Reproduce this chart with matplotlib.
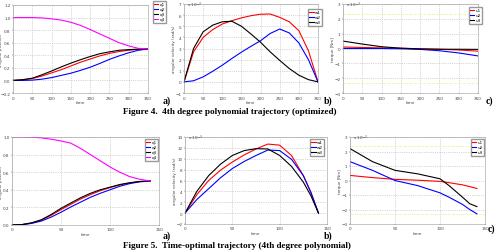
import numpy as np
import matplotlib.pyplot as plt

W, H = 497, 251

# ---------------- Figure 4 data (t = 0..350 step 25) ----------------
t4 = [0, 25, 50, 75, 100, 125, 150, 175, 200, 225, 250, 275, 300, 325, 350]
q4_1 = [0, 0.01, 0.03, 0.07, 0.12, 0.17, 0.23, 0.29, 0.34, 0.39, 0.43, 0.46, 0.48, 0.495, 0.5]
q4_2 = [0, 0.0, 0.005, 0.02, 0.045, 0.08, 0.115, 0.16, 0.21, 0.27, 0.335, 0.39, 0.44, 0.48, 0.5]
q4_3 = [0, 0.012, 0.035, 0.09, 0.15, 0.215, 0.275, 0.33, 0.38, 0.425, 0.455, 0.48, 0.49, 0.498, 0.5]
q4_4 = [1, 1, 1, 0.995, 0.98, 0.96, 0.925, 0.875, 0.81, 0.74, 0.67, 0.6, 0.55, 0.51, 0.5]

w4_1 = [0, 2.7, 4.0, 4.7, 5.2, 5.5, 5.75, 5.95, 6.08, 6.1, 5.8, 5.4, 4.6, 2.8, 0]
w4_2 = [0, 0.1, 0.45, 0.95, 1.5, 2.1, 2.67, 3.2, 3.7, 4.35, 4.75, 4.4, 3.5, 2.0, 0]
w4_3 = [0, 3.0, 4.5, 5.1, 5.4, 5.45, 5.0, 4.3, 3.56, 2.7, 1.93, 1.2, 0.6, 0.2, 0]

tu4 = [0, 50, 100, 150, 200, 250, 300, 350]
u4_1 = [0.1, 0.07, 0.04, 0.02, -0.02, -0.05, -0.1, -0.18]
u4_2 = [0.0, 0.0, 0.0, -0.02, -0.06, -0.15, -0.3, -0.5]
u4_3 = [0.5, 0.3, 0.12, 0.02, -0.03, -0.05, -0.05, -0.06]

# ---------------- Figure 5 data (t = 0..141) ----------------
t5 = [0, 10, 20, 30, 40, 50, 60, 70, 80, 90, 100, 110, 120, 130, 141]
q5_1 = [0, 0.004, 0.022, 0.055, 0.11, 0.175, 0.235, 0.295, 0.345, 0.39, 0.425, 0.455, 0.478, 0.493, 0.5]
q5_2 = [0, 0.003, 0.018, 0.045, 0.09, 0.145, 0.205, 0.26, 0.315, 0.36, 0.40, 0.44, 0.47, 0.49, 0.5]
q5_3 = [0, 0.005, 0.025, 0.06, 0.12, 0.19, 0.25, 0.31, 0.36, 0.40, 0.43, 0.46, 0.48, 0.495, 0.5]
q5_4 = [1, 1, 0.998, 0.99, 0.975, 0.955, 0.93, 0.87, 0.80, 0.73, 0.66, 0.60, 0.55, 0.52, 0.5]

tw5 = [0, 12.5, 25, 37.5, 50, 62.5, 75, 87.5, 100, 112.5, 125, 133, 141]
w5_1 = [0, 3.4, 6.0, 7.9, 9.4, 10.7, 11.8, 12.7, 12.5, 10.6, 6.9, 3.8, 0]
w5_2 = [0, 2.5, 4.5, 6.5, 8.2, 9.5, 10.6, 11.6, 11.5, 9.9, 6.9, 3.8, 0]
w5_3 = [0, 4.0, 6.9, 9.0, 10.6, 11.5, 11.85, 11.8, 10.6, 8.6, 5.7, 3.2, 0]

tu5 = [0, 25, 50, 75, 100, 110, 125, 133, 141]
u5_1 = [0.35, 0.2, 0.08, 0.02, -0.06, -0.15, -0.3, -0.42, -0.55]
u5_2 = [1.3, 0.7, 0.0, -0.35, -0.85, -1.15, -1.65, -2.0, -2.3]
u5_3 = [2.2, 1.3, 0.7, 0.46, 0.12, -0.35, -1.15, -1.6, -1.8]


def px_axes(fig, l, r, t, b):
    ax = fig.add_axes([l / W, 1 - b / H, (r - l) / W, (b - t) / H])
    ax._pxl = l
    ax._pxw = r - l
    return ax


def style(ax, xt, yt, ylab, scale=False, lab_px=None):
    ax.set_xticks(xt)
    ax.set_yticks(yt)
    ax.set_xlim(xt[0], xt[-1])
    ax.set_ylim(yt[0], yt[-1])
    ax.grid(True, linestyle=':', color='#b0b0b0', linewidth=0.5)
    ax.tick_params(labelsize=3.0, length=1, width=0.3, pad=0.8, colors='#444444')
    for s in ax.spines.values():
        s.set_color('#999999')
        s.set_linewidth(0.4)
    ax.set_xlabel('time', fontsize=3.0, labelpad=0.5, color='#444444')
    ax.set_ylabel(ylab, fontsize=2.9, color='#444444')
    # label centre in figure pixels
    if lab_px is None:
        lab_px = ax._pxl - 8.0
    ax.yaxis.set_label_coords((lab_px - ax._pxl) / ax._pxw, 0.5)
    if scale:
        ax.text(0.02, 1.0, 'x 10$^{-3}$', transform=ax.transAxes, fontsize=3.0,
                color='#444444', va='center')


def leg(ax, x1, y0):
    ax.legend(loc='upper right', bbox_to_anchor=(x1 / W, 1 - y0 / H),
              bbox_transform=ax.figure.transFigure, fontsize=3,
              handlelength=1.0, borderpad=0.3, labelspacing=0.25, handletextpad=0.3,
              borderaxespad=0, fancybox=False, edgecolor='#999999', framealpha=1)


fig = plt.figure(figsize=(W / 100, H / 100), dpi=100)
lw = 0.8

# Figure 4 a)
ax = px_axes(fig, 13, 148, 6, 94)
ax.plot(t4, q4_1, color='red', lw=lw, label='q1')
ax.plot(t4, q4_2, color='blue', lw=lw, label='q2')
ax.plot(t4, q4_3, color='black', lw=lw, label='q3')
ax.plot(t4, q4_4, color='magenta', lw=lw, label='q4')
style(ax, [0, 50, 100, 150, 200, 250, 300, 350], [-0.2, 0, 0.2, 0.4, 0.6, 0.8, 1, 1.2],
      'angular position', lab_px=3.3)
leg(ax, 166, 2)

# Figure 4 b)
ax = px_axes(fig, 184, 318, 5, 94)
ax.plot(t4, w4_1, color='red', lw=lw, label='w1')
ax.plot(t4, w4_2, color='blue', lw=lw, label='w2')
ax.plot(t4, w4_3, color='black', lw=lw, label='w3')
style(ax, [0, 50, 100, 150, 200, 250, 300, 350], list(range(-1, 8)), 'angular velocity (rad/s)', True)
leg(ax, 322, 10)

# Figure 4 c)
ax = px_axes(fig, 343, 478, 5, 94)
for v in (2.3, -2.3):
    ax.axhline(v, color='#f2f2a0', lw=0.6, ls='--')
ax.plot(tu4, u4_1, color='red', lw=lw, label='u1')
ax.plot(tu4, u4_2, color='blue', lw=lw, label='u2')
ax.plot(tu4, u4_3, color='black', lw=lw, label='u3')
style(ax, [0, 50, 100, 150, 200, 250, 300, 350], list(range(-3, 4)), 'torque [Nm]', True)
leg(ax, 482, 8)

# Figure 5 a)
ax = px_axes(fig, 12, 159, 138, 226)
ax.plot(t5, q5_1, color='red', lw=lw, label='q1')
ax.plot(t5, q5_2, color='blue', lw=lw, label='q2')
ax.plot(t5, q5_3, color='black', lw=lw, label='q3')
ax.plot(t5, q5_4, color='magenta', lw=lw, label='q4')
style(ax, [0, 50, 100, 150], [0, 0.2, 0.4, 0.6, 0.8, 1], 'angular position', lab_px=3.0)
leg(ax, 158, 140)

# Figure 5 b)
ax = px_axes(fig, 185, 327, 138, 225)
ax.plot(tw5, w5_1, color='red', lw=lw, label='w1')
ax.plot(tw5, w5_2, color='blue', lw=lw, label='w2')
ax.plot(tw5, w5_3, color='black', lw=lw, label='w3')
style(ax, [0, 50, 100, 150], list(range(-2, 15, 2)), 'angular velocity (rad/s)', True)
leg(ax, 324, 140)

# Figure 5 c)
ax = px_axes(fig, 350, 485, 138, 225)
for v in (2.4, -2.3):
    ax.axhline(v, color='#f2f2a0', lw=0.6, ls='--')
ax.plot(tu5, u5_1, color='red', lw=lw, label='u1')
ax.plot(tu5, u5_2, color='blue', lw=lw, label='u2')
ax.plot(tu5, u5_3, color='black', lw=lw, label='u3')
style(ax, [0, 50, 100, 150], list(range(-3, 4)), 'torque [Nm]', True)
leg(ax, 484, 140)

# panel letters and captions
lab = dict(fontfamily='Liberation Serif', fontweight='bold', fontsize=7, va='center', ha='left')
for x, y, s in [(163, 101, 'a)'), (324, 101, 'b)'), (486, 101, 'c)'),
                (163, 236, 'a)'), (324, 236, 'b)'), (488, 229, 'c)')]:
    fig.text(x / W, 1 - y / H, s, **lab)
cap = dict(fontfamily='Liberation Serif', fontweight='bold', fontsize=6.6, va='center', ha='left')
fig.text(123 / W, 1 - 112 / H, 'Figure 4.  4th degree polynomial trajectory (optimized)', **cap)
fig.text(123 / W, 1 - 246 / H, 'Figure 5.  Time-optimal trajectory (4th degree polynomial)', **cap)

fig.savefig('out.png', dpi=100)
